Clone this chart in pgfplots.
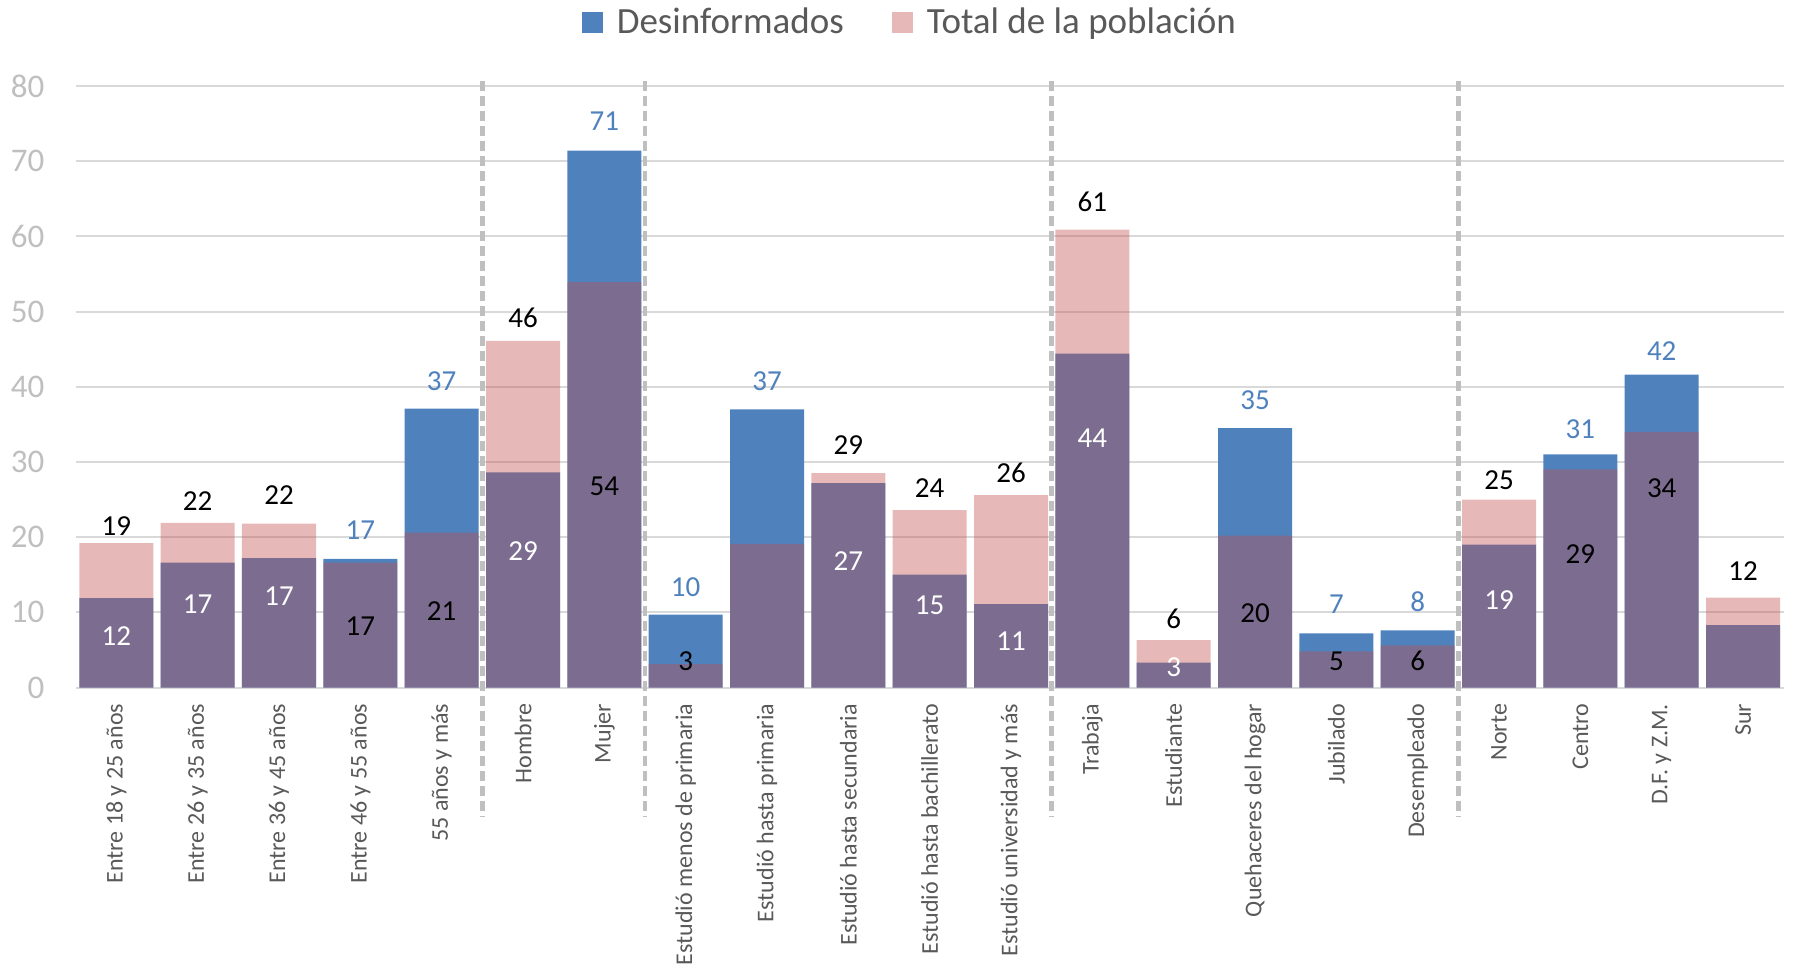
\documentclass[border=0pt]{standalone}
\usepackage{fontspec}
\setmainfont{Carlito}
\usepackage{pgfplots}
\pgfplotsset{compat=1.18}
\definecolor{blueC}{HTML}{4F81BD}
\definecolor{pinkC}{HTML}{C0504D}
\definecolor{gridC}{HTML}{D9D9D9}
\definecolor{dashC}{HTML}{BFBFBF}
\definecolor{ytC}{HTML}{BFBFBF}
\definecolor{xtC}{HTML}{595959}
\definecolor{lblue}{HTML}{4F81BD}
\begin{document}
\begin{tikzpicture}
\begin{axis}[
  scale only axis, width=854pt, height=300.75pt,
  xmin=-0.5, xmax=20.5, ymin=0, ymax=80,
  clip=false,
  ytick={0,10,...,80},
  xtick={0,...,20},
  xticklabels={Entre 18 y 25 años, Entre 26 y 35 años, Entre 36 y 45 años, Entre 46 y 55 años, 55 años y más, Hombre, Mujer, Estudió menos de primaria, Estudió hasta primaria, Estudió hasta secundaria, Estudió hasta bachillerato, Estudió universidad y más, Trabaja, Estudiante, Quehaceres del hogar, Jubilado, Desempleado, Norte, Centro, {D.F. y Z.M.}, Sur},
  axis line style={draw=none},
  major tick length=0pt,
  ymajorgrids, grid style={gridC, line width=1pt},
  /pgf/number format/assume math mode=true,
  yticklabel style={anchor=east, inner sep=0pt, xshift=-15.5pt, font=\fontsize{16.5}{18}\selectfont, text=ytC},
  xticklabel style={rotate=90, anchor=east, inner sep=0pt, font=\fontsize{12}{14}\selectfont, text=xtC},
  xticklabel shift=8pt,
  legend style={at={(0.489,1.1056)}, anchor=center, legend columns=2, draw=none, fill=none,
    font=\fontsize{18.5}{21}\selectfont, text=xtC,
    /tikz/every odd column/.append style={column sep=5pt},
    /tikz/every even column/.append style={column sep=22pt}},
  legend image code/.code={\fill[#1] (0pt,-5.5pt) rectangle (10.5pt,5pt);},
]
\addplot[ybar, bar width=0.91, bar shift=0pt, fill=blueC, draw=none] table[x=x, y=y] {
x y
0 11.9
1 16.6
2 17.2
3 17.1
4 37.1
5 28.6
6 71.4
7 9.7
8 37.0
9 27.2
10 15.0
11 11.1
12 44.4
13 3.3
14 34.5
15 7.2
16 7.6
17 19.0
18 31.0
19 41.6
20 8.3
};
\addlegendentry{Desinformados}
\addplot[ybar, bar width=0.91, bar shift=0pt, fill=pinkC, fill opacity=0.4, draw=none] table[x=x, y=y] {
x y
0 19.2
1 21.9
2 21.8
3 16.6
4 20.6
5 46.1
6 53.9
7 3.1
8 19.1
9 28.5
10 23.6
11 25.6
12 60.9
13 6.3
14 20.2
15 4.8
16 5.6
17 25.0
18 29.0
19 34.0
20 11.95
};
\addlegendentry{Total de la población}
% group separators
\addplot[forget plot, dashC, line width=2.3pt, dash pattern=on 5pt off 2.5pt] coordinates {(4.5,80.65) (4.5,-17.2)};
\addplot[forget plot, dashC, line width=2.3pt, dash pattern=on 5pt off 2.5pt] coordinates {(6.5,80.65) (6.5,-17.2)};
\addplot[forget plot, dashC, line width=2.3pt, dash pattern=on 5pt off 2.5pt] coordinates {(11.5,80.65) (11.5,-17.2)};
\addplot[forget plot, dashC, line width=2.3pt, dash pattern=on 5pt off 2.5pt] coordinates {(16.5,80.65) (16.5,-17.2)};
% labels
\addplot[forget plot, draw=none, mark=none, nodes near coords, point meta=explicit symbolic,
  nodes near coords style={anchor=center, font=\fontsize{14.5}{16}\selectfont, text=black}] table[x=x, y=y, meta=l] {
x y l
0 21.5 19
1 24.8 22
2 25.6 22
5 49.2 46
9 32.3 29
10 26.5 24
11 28.5 26
12 64.6 61
13 9.1 6
17 27.6 25
20 15.5 12
3 8.1 17
4 10.1 21
6 26.8 54
7 3.5 3
14 9.9 20
15 3.5 5
16 3.5 6
18 17.8 29
19 26.5 34
};
\addplot[forget plot, draw=none, mark=none, nodes near coords, point meta=explicit symbolic,
  nodes near coords style={anchor=center, font=\fontsize{14.5}{16}\selectfont, text=lblue}] table[x=x, y=y, meta=l] {
x y l
3 20.9 17
4 40.8 37
6 75.3 71
7 13.4 10
8 40.7 37
14 38.2 35
15 11.1 7
16 11.4 8
18 34.3 31
19 44.8 42
};
\addplot[forget plot, draw=none, mark=none, nodes near coords, point meta=explicit symbolic,
  nodes near coords style={anchor=center, font=\fontsize{14.5}{16}\selectfont, text=white}] table[x=x, y=y, meta=l] {
x y l
0 6.9 12
1 11.1 17
2 12.2 17
5 18.1 29
9 16.8 27
10 11.0 15
11 6.2 11
12 33.2 44
13 2.7 3
17 11.6 19
};
\coordinate (bbsw) at (rel axis cs:-0.0443,-0.4597);
\coordinate (bbne) at (rel axis cs:1.0066,1.1430);
\end{axis}
\pgfresetboundingbox
\path[use as bounding box] (bbsw) rectangle (bbne);
\end{tikzpicture}
\end{document}
